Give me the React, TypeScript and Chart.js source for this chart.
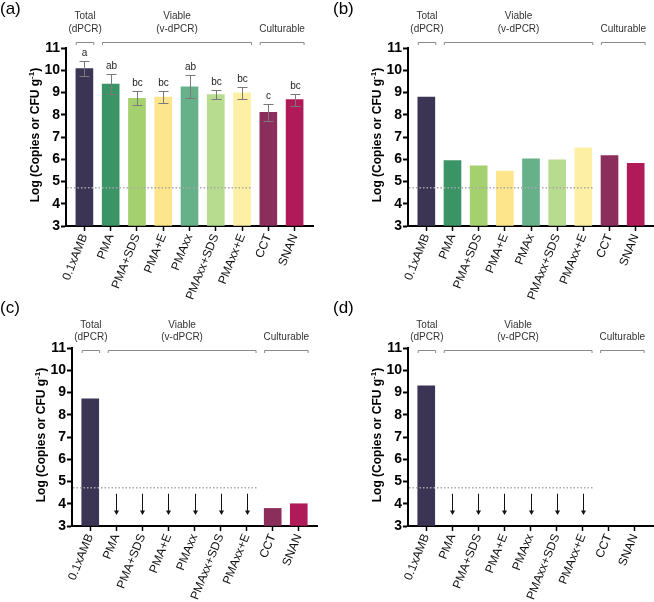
import React, { useEffect, useRef } from 'react';
import { Chart, registerables } from 'chart.js';

Chart.register(...registerables);

// ---------------- data ----------------
const categoriesMain = ['0.1xAMB', 'PMA', 'PMA+SDS', 'PMA+E', 'PMAxx', 'PMAxx+SDS', 'PMAxx+E', 'CCT', 'SNAN'];
const categoriesB = ['0.1xAMB', 'PMA', 'PMA+SDS', 'PMA+E', 'PMAx', 'PMAxx+SDS', 'PMAxx+E', 'CCT', 'SNAN'];
const barColors = ['#3b3454', '#3a9466', '#a5d06e', '#fce58a', '#66b189', '#b8dc8f', '#fdf0a4', '#8c2e5b', '#b01a59'];
const yTickValues = [3, 4, 5, 6, 7, 8, 9, 10, 11];

const valuesA = [10.08, 9.38, 8.74, 8.79, 9.26, 8.91, 8.98, 8.11, 8.68];
const errorsA = [0.32, 0.44, 0.32, 0.27, 0.51, 0.22, 0.26, 0.38, 0.27];
const lettersA = ['a', 'ab', 'bc', 'bc', 'ab', 'bc', 'bc', 'c', 'bc'];

const valuesB = [8.79, 5.94, 5.70, 5.47, 6.02, 5.97, 6.51, 6.17, 5.82];

const valuesC: (number | null)[] = [8.71, null, null, null, null, null, null, 3.79, 4.0];
const belowLodC = [false, true, true, true, true, true, true, false, false];

const valuesD: (number | null)[] = [9.3, null, null, null, null, null, null, null, null];
const belowLodD = [false, true, true, true, true, true, true, false, false];

const lodValue = 4.72;
const lodEndIndex = 6.4;
const arrowFromValue = 4.45;
const arrowToValue = 3.5;

const groupLine1 = ['Total', 'Viable', ''];
const groupLine2 = ['(dPCR)', '(v-dPCR)', 'Culturable'];
const groupFrom = [0, 1, 7];
const groupTo = [0, 6, 8];

const panelNames = ['(a)', '(b)', '(c)', '(d)'];

// ---------------- layout ----------------
const W = 654;
const H = 602;
const Y_W = 60;
const X_H = 80;
const FONT = '"Liberation Sans", Arial, Helvetica, sans-serif';

type Panel = {
  name: string;
  labels: string[];
  values: (number | null)[];
  errors?: number[];
  letters?: string[];
  below?: boolean[];
  left: number;
  right: number;
  top: number;
  bottom: number;
  nameX: number;
  nameY: number;
  head1: number;
  head2: number;
  bracketY: number;
};

const panels: Panel[] = [
  { name: panelNames[0], labels: categoriesMain, values: valuesA, errors: errorsA, letters: lettersA,
    left: 66, right: 313, top: 48, bottom: 226, nameX: 0, nameY: 9, head1: 16, head2: 29, bracketY: 42 },
  { name: panelNames[1], labels: categoriesB, values: valuesB,
    left: 408, right: 654, top: 48, bottom: 226, nameX: 333, nameY: 9, head1: 16, head2: 29, bracketY: 42 },
  { name: panelNames[2], labels: categoriesMain, values: valuesC, below: belowLodC,
    left: 72, right: 317, top: 348, bottom: 526, nameX: 0, nameY: 308, head1: 325, head2: 337, bracketY: 350 },
  { name: panelNames[3], labels: categoriesMain, values: valuesD, below: belowLodD,
    left: 408, right: 653, top: 348, bottom: 526, nameX: 333, nameY: 308, head1: 325, head2: 337, bracketY: 350 },
];

function makePlugin(p: Panel) {
  return {
    id: 'panelDeco',
    afterDraw(chart: any) {
      const ctx: CanvasRenderingContext2D = chart.ctx;
      const xs = chart.scales.x;
      const ys = chart.scales.y;
      const area = chart.chartArea;
      const px = (v: number) => xs.getPixelForValue(v);
      const py = (v: number) => ys.getPixelForValue(v);
      ctx.save();

      // panel name
      ctx.fillStyle = '#000';
      ctx.font = `17px ${FONT}`;
      ctx.textAlign = 'left';
      ctx.textBaseline = 'middle';
      ctx.fillText(p.name, p.nameX, p.nameY);

      // y title
      ctx.save();
      ctx.translate(area.left - 30, (area.top + area.bottom) / 2 - 2);
      ctx.rotate(-Math.PI / 2);
      const main = 'Log (Copies or CFU g';
      const sup = '-1';
      const end = ')';
      ctx.font = `bold 12px ${FONT}`;
      const w1 = ctx.measureText(main).width;
      const w3 = ctx.measureText(end).width;
      ctx.font = `bold 8px ${FONT}`;
      const w2 = ctx.measureText(sup).width;
      let tx = -(w1 + w2 + w3) / 2;
      ctx.textAlign = 'left';
      ctx.textBaseline = 'middle';
      ctx.fillStyle = '#000';
      ctx.font = `bold 12px ${FONT}`;
      ctx.fillText(main, tx, 0);
      tx += w1;
      ctx.font = `bold 8px ${FONT}`;
      ctx.fillText(sup, tx, -4);
      tx += w2;
      ctx.font = `bold 12px ${FONT}`;
      ctx.fillText(end, tx, 0);
      ctx.restore();

      // group headers and brackets
      for (let g = 0; g < groupFrom.length; g++) {
        const x0 = px(groupFrom[g] - 0.33);
        const x1 = px(groupTo[g] + 0.38);
        const cx = (x0 + x1) / 2;
        ctx.fillStyle = '#333';
        ctx.font = `10px ${FONT}`;
        ctx.textAlign = 'center';
        ctx.textBaseline = 'middle';
        if (groupLine1[g]) ctx.fillText(groupLine1[g], cx, p.head1);
        if (groupLine2[g]) ctx.fillText(groupLine2[g], cx, p.head2);
        ctx.strokeStyle = '#8a8a8a';
        ctx.lineWidth = 1;
        ctx.beginPath();
        ctx.moveTo(x0 + 0.5, p.bracketY + 3);
        ctx.lineTo(x0 + 0.5, p.bracketY + 0.5);
        ctx.lineTo(x1 - 0.5, p.bracketY + 0.5);
        ctx.lineTo(x1 - 0.5, p.bracketY + 3);
        ctx.stroke();
      }

      // error bars + letters
      if (p.errors) {
        ctx.strokeStyle = '#7a7a7a';
        ctx.lineWidth = 1;
        for (let i = 0; i < p.values.length; i++) {
          const v = p.values[i];
          if (v == null) continue;
          const e = p.errors[i];
          const x = Math.round(px(i)) + 0.5;
          const yt = Math.round(py(v + e)) + 0.5;
          const yb = Math.round(py(v - e)) + 0.5;
          ctx.beginPath();
          ctx.moveTo(x, yt);
          ctx.lineTo(x, yb);
          ctx.moveTo(x - 5, yt);
          ctx.lineTo(x + 5, yt);
          ctx.moveTo(x - 5, yb);
          ctx.lineTo(x + 5, yb);
          ctx.stroke();
          if (p.letters) {
            ctx.fillStyle = '#222';
            ctx.font = `10px ${FONT}`;
            ctx.textAlign = 'center';
            ctx.textBaseline = 'bottom';
            ctx.fillText(p.letters[i], x, yt - 3);
          }
        }
      }

      // LOD dotted line
      ctx.strokeStyle = '#a8a8a8';
      ctx.lineWidth = 1.5;
      ctx.setLineDash([1.5, 2]);
      ctx.beginPath();
      const ly = py(lodValue);
      ctx.moveTo(area.left + 1, ly);
      ctx.lineTo(px(lodEndIndex), ly);
      ctx.stroke();
      ctx.setLineDash([]);

      // arrows for values below LOD
      if (p.below) {
        ctx.strokeStyle = '#111';
        ctx.fillStyle = '#111';
        ctx.lineWidth = 1;
        for (let i = 0; i < p.below.length; i++) {
          if (!p.below[i]) continue;
          const x = Math.round(px(i)) + 0.5;
          const y0 = py(arrowFromValue);
          const y1 = py(arrowToValue);
          ctx.beginPath();
          ctx.moveTo(x, y0);
          ctx.lineTo(x, y1 - 4);
          ctx.stroke();
          ctx.beginPath();
          ctx.moveTo(x - 2.5, y1 - 4.5);
          ctx.lineTo(x + 2.5, y1 - 4.5);
          ctx.lineTo(x, y1);
          ctx.closePath();
          ctx.fill();
        }
      }
      ctx.restore();
    },
  };
}

function PanelChart({ p }: { p: Panel }) {
  const ref = useRef<HTMLCanvasElement | null>(null);
  useEffect(() => {
    if (!ref.current) return;
    const pts = p.labels.map((_, i) => ({ x: i, y: p.values[i] }));
    const chart = new Chart(ref.current, {
      type: 'bar',
      data: {
        datasets: [
          {
            data: pts as any,
            backgroundColor: barColors,
            borderWidth: 0,
            barThickness: 17,
            base: 3,
          } as any,
        ],
      },
      options: {
        responsive: false,
        animation: false,
        events: [],
        layout: {
          autoPadding: false,
          padding: { left: p.left - Y_W, top: p.top, right: W - p.right, bottom: H - p.bottom - X_H },
        },
        plugins: { legend: { display: false }, tooltip: { enabled: false }, title: { display: false } },
        scales: {
          x: {
            type: 'linear',
            offset: false,
            min: -0.7,
            max: 8.7,
            afterFit: (s: any) => {
              s.height = X_H;
              s.paddingLeft = 0;
              s.paddingRight = 0;
            },
            afterBuildTicks: (s: any) => { s.ticks = p.labels.map((_, i) => ({ value: i })); },
            ticks: {
              autoSkip: false,
              minRotation: 68,
              maxRotation: 68,
              padding: 1,
              color: '#111',
              font: { family: FONT, size: 12 },
              callback: (v: any) => p.labels[v as number] ?? '',
            },
            grid: { offset: false, drawOnChartArea: false, drawTicks: true, tickLength: 5, tickWidth: 1.5, tickColor: '#000' },
            border: { display: true, color: '#000', width: 2 },
          } as any,
          y: {
            min: 3,
            max: 11,
            afterFit: (s: any) => { s.width = Y_W; },
            afterBuildTicks: (s: any) => { s.ticks = yTickValues.map((v) => ({ value: v })); },
            ticks: { padding: 1, color: '#000', font: { family: FONT, size: 14, weight: 'bold' } },
            grid: { drawOnChartArea: false, drawTicks: true, tickLength: 5, tickWidth: 2, tickColor: '#000' },
            border: { display: true, color: '#000', width: 2 },
          } as any,
        },
      },
      plugins: [makePlugin(p)],
    });
    return () => chart.destroy();
  }, [p]);
  return (
    <canvas
      ref={ref}
      width={W}
      height={H}
      style={{ position: 'absolute', left: 0, top: 0, width: W, height: H, pointerEvents: 'none' }}
    />
  );
}

export default function App() {
  return (
    <div style={{ position: 'absolute', left: 0, top: 0, width: W, height: H, background: '#fff', overflow: 'hidden' }}>
      {panels.map((p) => (
        <PanelChart key={p.name} p={p} />
      ))}
    </div>
  );
}
